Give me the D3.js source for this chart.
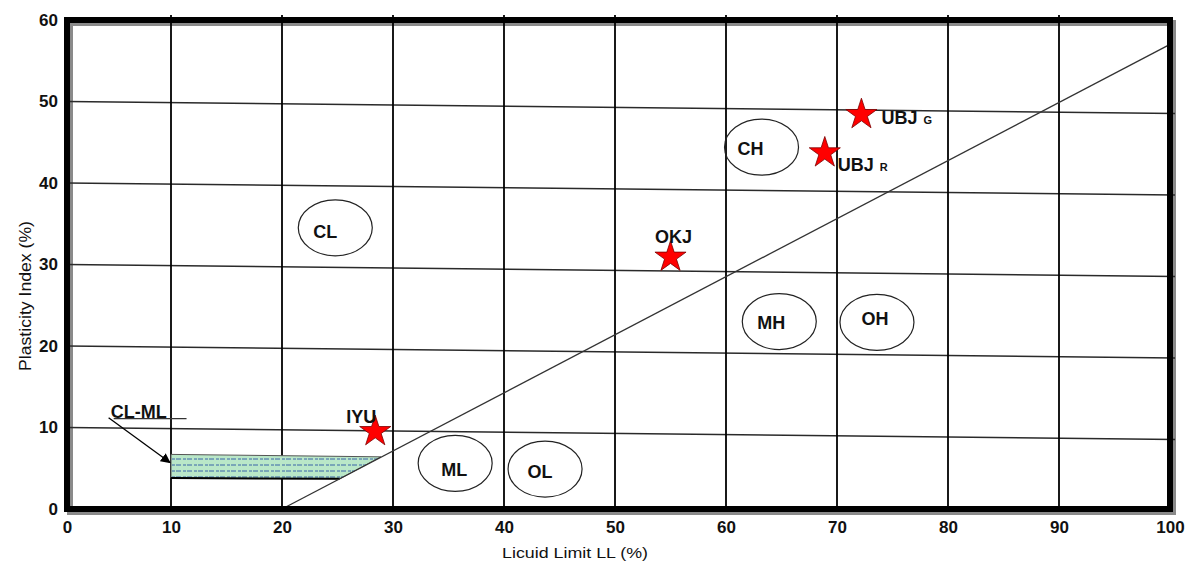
<!DOCTYPE html>
<html>
<head>
<meta charset="utf-8">
<script src="https://cdn.jsdelivr.net/npm/d3@7"></script>
<style>
  html, body { margin: 0; padding: 0; background: #fff; }
  svg { display: block; font-family: "Liberation Sans", Arial, sans-serif; }
</style>
</head>
<body>
<svg id="chart" width="1192" height="561"></svg>
<script>
// ---------- data ----------
const xTicks = [0, 10, 20, 30, 40, 50, 60, 70, 80, 90, 100];
const yTicks = [0, 10, 20, 30, 40, 50, 60];

const zoneNames = ["CL", "CH", "MH", "OH", "ML", "OL"];
const zoneLL    = [24.8, 63.2, 64.8, 73.6, 35.6, 43.7];
const zonePI    = [34.5, 44.4, 23.0, 22.9, 5.6, 4.9];

const sampleNames = ["IYU", "OKJ", "UBJ", "UBJ"];
const sampleSubs  = ["", "", "R", "G"];
const sampleLL    = [28.4, 55.0, 68.9, 72.2];
const samplePI    = [9.5, 30.9, 43.7, 48.4];

const aLineLL = [20, 100];
const aLinePI = [0, 57];

const clmlLL = [10, 28.9, 25.2, 10];
const clmlPI = [6.7, 6.4, 3.7, 3.8];

const clmlLabel = "CL-ML";
const clmlLabelLL = 6.9, clmlLabelPI = 11.9;
const clmlUnderLL = [4.2, 11.4], clmlUnderPI = [11.1, 11.1];
const clmlArrowLL = [4.0, 9.9],  clmlArrowPI = [11.2, 5.7];

const xTitle = "Licuid Limit LL (%)";
const yTitle = "Plasticity Index (%)";

// ---------- layout ----------
const svg = d3.select("#chart");
const x = d3.scaleLinear().domain([0, 10, 100]).range([67, 171, 1170]);
const y = d3.scaleLinear().domain([0, 60]).range([509, 20]);

// label nudges (pixels) for zone labels and sample labels
const zoneNudge = [[-10, 4], [-11, 2], [-8, 1], [-2, -3], [-1, 7], [-5, 3]];
const sampleLabelLayout = [
  { dx: -14, dy: -9, anchor: "middle" },
  { dx: 3, dy: -14, anchor: "middle" },
  { dx: 13, dy: 18, anchor: "start" },
  { dx: 20, dy: 9, anchor: "start" }
];

// defs: hatch pattern and arrowhead
const defs = svg.append("defs");
const pat = defs.append("pattern").attr("id", "hatch")
  .attr("patternUnits", "userSpaceOnUse").attr("width", 11).attr("height", 6);
pat.append("rect").attr("width", 11).attr("height", 6).attr("fill", "#b9e7c8");
pat.append("line").attr("x1", 0).attr("x2", 5).attr("y1", 3).attr("y2", 3)
  .attr("stroke", "#3a64a8").attr("stroke-width", 1);
pat.append("line").attr("x1", 7).attr("x2", 10).attr("y1", 3).attr("y2", 3)
  .attr("stroke", "#3a64a8").attr("stroke-width", 1);
defs.append("marker").attr("id", "arrow").attr("viewBox", "0 0 10 10")
  .attr("refX", 9).attr("refY", 5).attr("markerWidth", 10).attr("markerHeight", 10)
  .attr("markerUnits", "userSpaceOnUse").attr("orient", "auto")
  .append("path").attr("d", "M0,0 L10,5 L0,10 z").attr("fill", "#000");

// frame shadow
svg.append("rect")
  .attr("x", x(0) + 3).attr("y", y(60) + 3)
  .attr("width", x(100) - x(0)).attr("height", y(0) - y(60))
  .attr("fill", "none").attr("stroke", "#8a8a8a").attr("stroke-width", 6);

// horizontal grid (slightly tilted as in the scanned original)
const x0 = x(0);
const hGrid = svg.append("g")
  .attr("transform", `translate(${x0},0) skewY(0.62) translate(${-x0},0)`);
hGrid.selectAll("line").data(yTicks.filter(d => d > 0 && d < 60)).join("line")
  .attr("x1", x(0)).attr("x2", x(100) + 5)
  .attr("y1", d => y(d)).attr("y2", d => y(d))
  .attr("stroke", "#2a2a2a").attr("stroke-width", 1.4);

// vertical grid
svg.append("g").selectAll("line").data(xTicks.filter(d => d > 0 && d < 100)).join("line")
  .attr("x1", d => x(d)).attr("x2", d => x(d))
  .attr("y1", y(60) - 5).attr("y2", y(0))
  .attr("stroke", "#000").attr("stroke-width", 1.8);

// CL-ML hatched region
const clmlPts = clmlLL.map((v, i) => [x(v), y(clmlPI[i])]);
svg.append("path")
  .attr("d", d3.line()(clmlPts) + "Z")
  .attr("fill", "url(#hatch)").attr("stroke", "#555").attr("stroke-width", 1);
svg.append("line")
  .attr("x1", x(clmlLL[3])).attr("x2", x(clmlLL[2]))
  .attr("y1", y(clmlPI[3])).attr("y2", y(clmlPI[2]))
  .attr("stroke", "#000").attr("stroke-width", 2);

// A-line
svg.append("path")
  .attr("d", d3.line()(aLineLL.map((v, i) => [x(v), y(aLinePI[i])])))
  .attr("fill", "none").attr("stroke", "#333").attr("stroke-width", 1.3);

// frame
svg.append("rect")
  .attr("x", x(0)).attr("y", y(60))
  .attr("width", x(100) - x(0)).attr("height", y(0) - y(60))
  .attr("fill", "none").attr("stroke", "#000").attr("stroke-width", 6);

// axes tick labels via d3 axes
const xAxis = svg.append("g").attr("transform", `translate(0,${y(0)})`)
  .call(d3.axisBottom(x).tickValues(xTicks).tickSize(0).tickPadding(12).tickFormat(d3.format("d")));
xAxis.select(".domain").remove();
xAxis.selectAll("text").attr("font-size", 17).attr("font-weight", "bold")
  .attr("fill", "#111").attr("font-family", "Liberation Sans, Arial, sans-serif");

const yAxis = svg.append("g").attr("transform", `translate(${x(0)},0)`)
  .call(d3.axisLeft(y).tickValues(yTicks).tickSize(0).tickPadding(9).tickFormat(d3.format("d")));
yAxis.select(".domain").remove();
yAxis.selectAll("text").attr("font-size", 17).attr("font-weight", "bold")
  .attr("fill", "#111").attr("font-family", "Liberation Sans, Arial, sans-serif");

// axis titles
svg.append("text")
  .attr("x", 575).attr("y", 558).attr("text-anchor", "middle")
  .attr("font-size", 15).attr("fill", "#111")
  .attr("textLength", 146).attr("lengthAdjust", "spacingAndGlyphs")
  .text(xTitle);
svg.append("text")
  .attr("transform", "translate(31,296) rotate(-90)")
  .attr("text-anchor", "middle").attr("font-size", 17).attr("fill", "#111")
  .attr("textLength", 150).attr("lengthAdjust", "spacingAndGlyphs")
  .text(yTitle);

// zone ellipses and labels
const zones = svg.append("g");
zoneNames.forEach((n, i) => {
  const cx = x(zoneLL[i]), cy = y(zonePI[i]);
  zones.append("ellipse").attr("cx", cx).attr("cy", cy)
    .attr("rx", 37).attr("ry", 28)
    .attr("fill", "none").attr("stroke", "#222").attr("stroke-width", 1.2);
  zones.append("text").attr("x", cx + zoneNudge[i][0]).attr("y", cy + zoneNudge[i][1])
    .attr("text-anchor", "middle").attr("dominant-baseline", "central")
    .attr("font-size", 18).attr("font-weight", "bold").attr("fill", "#111")
    .text(n);
});

// CL-ML annotation
svg.append("text")
  .attr("x", x(clmlLabelLL)).attr("y", y(clmlLabelPI))
  .attr("text-anchor", "middle").attr("dominant-baseline", "central")
  .attr("font-size", 18).attr("font-weight", "bold").attr("fill", "#111")
  .text(clmlLabel);
svg.append("line")
  .attr("x1", x(clmlUnderLL[0]) + 3).attr("x2", x(clmlUnderLL[1]))
  .attr("y1", y(clmlUnderPI[0])).attr("y2", y(clmlUnderPI[1]))
  .attr("stroke", "#333").attr("stroke-width", 1.2);
svg.append("line")
  .attr("x1", x(clmlArrowLL[0])).attr("y1", y(clmlArrowPI[0]))
  .attr("x2", x(clmlArrowLL[1])).attr("y2", y(clmlArrowPI[1]))
  .attr("stroke", "#000").attr("stroke-width", 1.3)
  .attr("marker-end", "url(#arrow)");

// sample stars and labels
const star = d3.symbol().type(d3.symbolStar).size(300);
const samples = svg.append("g");
sampleNames.forEach((n, i) => {
  const sx = x(sampleLL[i]), sy = y(samplePI[i]);
  samples.append("path").attr("d", star())
    .attr("transform", `translate(${sx},${sy})`)
    .attr("fill", "#ff0000").attr("stroke", "#7a0000").attr("stroke-width", 0.8);
  const L = sampleLabelLayout[i];
  const t = samples.append("text")
    .attr("x", sx + L.dx).attr("y", sy + L.dy)
    .attr("text-anchor", L.anchor)
    .attr("font-size", 18).attr("font-weight", "bold").attr("fill", "#111");
  t.append("tspan").text(n);
  if (sampleSubs[i]) {
    t.append("tspan").attr("dx", 6).attr("font-size", 11).text(sampleSubs[i]);
  }
});
</script>
</body>
</html>
